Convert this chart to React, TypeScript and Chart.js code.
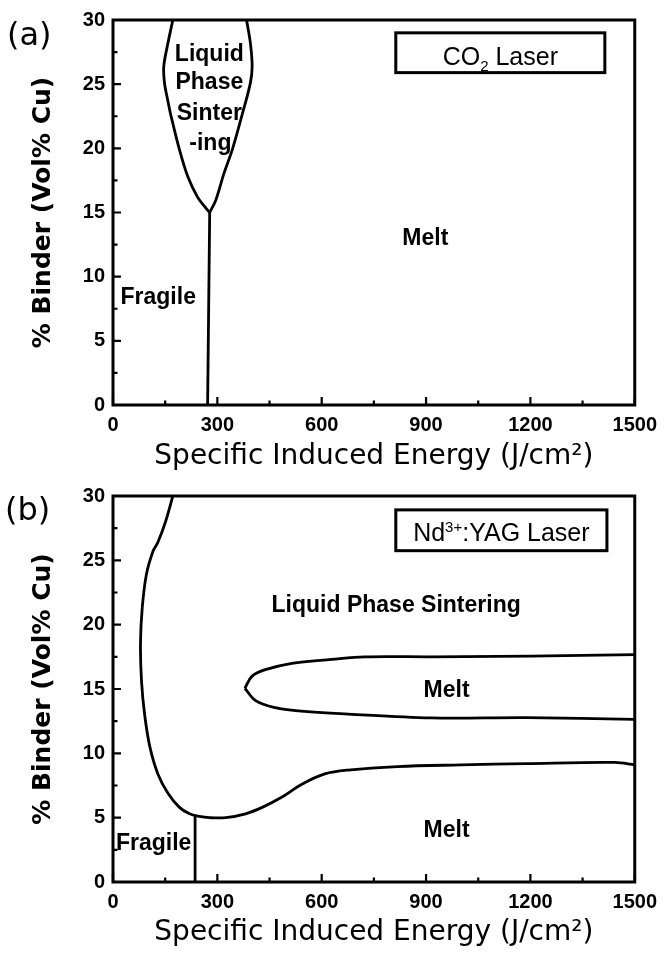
import React, { useEffect, useRef } from 'react';
import { Chart, registerables } from 'chart.js';

Chart.register(...registerables);

// ---------- axes ----------
const X_TICKS = [0, 300, 600, 900, 1200, 1500];
const X_MINOR = [150, 450, 750, 1050, 1350];
const Y_TICKS = [0, 5, 10, 15, 20, 25, 30];
const Y_MINOR = [2.5, 7.5, 12.5, 17.5, 22.5, 27.5];
const X_TITLE = 'Specific Induced Energy (J/cm\u00B2)';
const Y_TITLE = '% Binder (Vol% Cu)';

// ---------- panel (a): CO2 laser ----------
const A_LENS_LEFT_X = [172, 158, 146, 148, 157, 167, 191, 215, 243, 267, 278];
const A_LENS_LEFT_Y = [30, 28.2, 26.4, 25.1, 23.8, 22.5, 19.9, 17.8, 16.2, 15.35, 15.0];
const A_LENS_RIGHT_X = [278, 296, 319, 343, 370, 395, 400, 395, 384];
const A_LENS_RIGHT_Y = [15.0, 16.0, 18.05, 19.9, 22.5, 25.1, 26.4, 28.2, 30];
const A_DIVIDER_X = [272, 278];
const A_DIVIDER_Y = [0, 15.0];

// ---------- panel (b): Nd:YAG laser ----------
const B_ENVELOPE_X = [172, 151, 129, 115, 96, 84, 79, 82, 91, 106, 129, 158, 191, 220, 248, 277, 324, 381, 429, 486, 543, 609, 676, 818, 1000, 1189, 1443, 1500];
const B_ENVELOPE_Y = [30, 28.0, 26.4, 25.7, 23.9, 21.3, 18.5, 15.6, 13.0, 10.5, 8.4, 6.9, 5.8, 5.3, 5.1, 5.0, 5.0, 5.3, 5.8, 6.6, 7.6, 8.4, 8.7, 8.97, 9.1, 9.2, 9.29, 9.1];
const B_ISLAND_UPPER_X = [379, 400, 438, 514, 628, 724, 914, 1104, 1300, 1500];
const B_ISLAND_UPPER_Y = [15.06, 16.0, 16.5, 17.0, 17.3, 17.5, 17.5, 17.53, 17.6, 17.67];
const B_ISLAND_LOWER_X = [379, 410, 467, 533, 676, 914, 1189, 1500];
const B_ISLAND_LOWER_Y = [15.06, 14.1, 13.55, 13.3, 13.05, 12.75, 12.77, 12.64];
const B_DIVIDER_X = [236, 236];
const B_DIVIDER_Y = [0, 5.2];

// ---------- annotations (text, in data units) ----------
const A_REGION_TEXT = ['Liquid', 'Phase', 'Sinter', '-ing', 'Melt', 'Fragile'];
const A_REGION_X = [277, 277, 277, 280, 898, 130];
const A_REGION_Y = [27.3, 25.1, 22.7, 20.4, 12.95, 8.4];
const B_REGION_TEXT = ['Liquid Phase Sintering', 'Melt', 'Melt', 'Fragile'];
const B_REGION_X = [814, 959, 959, 117];
const B_REGION_Y = [21.5, 14.9, 4.0, 3.0];

const MAIN = '"Liberation Sans", Arial, Helvetica, sans-serif';
const WIDE = '"DejaVu Sans", Verdana, sans-serif';

type Part = { text: string; size: number; dy: number };

const pts = (xs: number[], ys: number[]) => xs.map((x, i) => ({ x, y: ys[i] }));

const line = (xs: number[], ys: number[], tension = 0.35) => ({
  data: pts(xs, ys),
  borderColor: '#000',
  borderWidth: 2.8,
  pointRadius: 0,
  fill: false,
  tension,
});

const decorPlugin = {
  id: 'decor',
  afterDraw(chart: any, _args: any, opts: any) {
    const { ctx, chartArea: a } = chart;
    const xs = chart.scales.x;
    const ys = chart.scales.y;
    ctx.save();
    ctx.strokeStyle = '#000';
    ctx.fillStyle = '#000';

    // inward tick marks
    ctx.lineWidth = 2.2;
    ctx.beginPath();
    const xt = (vals: number[], len: number) => {
      for (const v of vals) {
        const px = xs.getPixelForValue(v);
        ctx.moveTo(px, a.bottom);
        ctx.lineTo(px, a.bottom - len);
      }
    };
    const yt = (vals: number[], len: number) => {
      for (const v of vals) {
        const py = ys.getPixelForValue(v);
        ctx.moveTo(a.left, py);
        ctx.lineTo(a.left + len, py);
      }
    };
    xt(X_TICKS, 8);
    xt(X_MINOR, 4.5);
    yt(Y_TICKS, 8);
    yt(Y_MINOR, 4.5);
    ctx.stroke();

    // frame
    ctx.lineWidth = 3;
    ctx.strokeRect(a.left, a.top, a.right - a.left, a.bottom - a.top);

    // region labels
    ctx.font = `bold 23px ${MAIN}`;
    ctx.textAlign = 'center';
    ctx.textBaseline = 'middle';
    const texts: string[] = opts.regionText;
    texts.forEach((t, i) => {
      ctx.fillText(t, xs.getPixelForValue(opts.regionX[i]), ys.getPixelForValue(opts.regionY[i]));
    });

    // legend box
    const lg = opts.legend;
    const bx1 = xs.getPixelForValue(lg.x1);
    const bx2 = xs.getPixelForValue(lg.x2);
    const by1 = ys.getPixelForValue(lg.y1);
    const by2 = ys.getPixelForValue(lg.y2);
    ctx.lineWidth = 3;
    ctx.strokeRect(bx1, by1, bx2 - bx1, by2 - by1);
    const parts: Part[] = lg.parts;
    ctx.textAlign = 'left';
    ctx.textBaseline = 'alphabetic';
    let total = 0;
    const widths = parts.map((p) => {
      ctx.font = `${p.size}px ${MAIN}`;
      const w = ctx.measureText(p.text).width;
      total += w;
      return w;
    });
    let cx = (bx1 + bx2) / 2 - total / 2;
    const base = ys.getPixelForValue(lg.textY) + 9;
    parts.forEach((p, i) => {
      ctx.font = `${p.size}px ${MAIN}`;
      ctx.fillText(p.text, cx, base + p.dy);
      cx += widths[i];
    });

    // panel tag
    ctx.font = `32px ${WIDE}`;
    ctx.fillText(opts.tag, opts.tagX, opts.tagBaseline);
    ctx.restore();
  },
};

function makeConfig(p: any): any {
  return {
    type: 'line',
    data: { datasets: p.datasets },
    plugins: [decorPlugin],
    options: {
      responsive: false,
      maintainAspectRatio: false,
      animation: false,
      events: [],
      layout: { padding: { top: p.padTop, right: 26, left: 0, bottom: 0 } },
      plugins: {
        legend: { display: false },
        tooltip: { enabled: false },
        decor: p.decor,
      },
      scales: {
        x: {
          type: 'linear',
          min: 0,
          max: 1500,
          afterBuildTicks: (s: any) => {
            s.ticks = X_TICKS.map((v) => ({ value: v }));
          },
          afterFit: (s: any) => {
            s.height = p.xAxisH;
          },
          grid: { display: false, drawTicks: false },
          border: { display: false },
          ticks: {
            color: '#000',
            padding: 8,
            maxRotation: 0,
            callback: (v: any) => String(v),
            font: { family: MAIN, size: 20, weight: 'bold' },
          },
          title: {
            display: true,
            text: X_TITLE,
            color: '#000',
            font: { family: WIDE, size: 28, weight: 'normal' },
            padding: { top: 0, bottom: p.xTitlePad },
          },
        },
        y: {
          type: 'linear',
          min: 0,
          max: 30,
          afterBuildTicks: (s: any) => {
            s.ticks = Y_TICKS.map((v) => ({ value: v }));
          },
          afterFit: (s: any) => {
            s.width = 113;
          },
          grid: { display: false, drawTicks: false },
          border: { display: false },
          ticks: {
            color: '#000',
            padding: 8,
            callback: (v: any) => String(v),
            font: { family: MAIN, size: 20, weight: 'bold' },
          },
          title: {
            display: true,
            text: Y_TITLE,
            color: '#000',
            font: { family: WIDE, size: 25, weight: 'bold' },
            padding: { top: 28, bottom: 0 },
          },
        },
      },
    },
  };
}

const panelA = {
  padTop: 20,
  xAxisH: 71,
  xTitlePad: 2,
  datasets: [
    line(A_LENS_LEFT_X, A_LENS_LEFT_Y),
    line(A_LENS_RIGHT_X, A_LENS_RIGHT_Y),
    line(A_DIVIDER_X, A_DIVIDER_Y, 0),
  ],
  decor: {
    regionText: A_REGION_TEXT,
    regionX: A_REGION_X,
    regionY: A_REGION_Y,
    legend: {
      x1: 813, x2: 1414, y1: 29.0, y2: 25.9, textY: 27.2,
      parts: [
        { text: 'CO', size: 25, dy: 0 },
        { text: '2', size: 15, dy: 6 },
        { text: ' Laser', size: 25, dy: 0 },
      ],
    },
    tag: '(a)',
    tagX: 7,
    tagBaseline: 45,
  },
};

const panelB = {
  padTop: 18,
  xAxisH: 71,
  xTitlePad: 3,
  datasets: [
    line(B_ENVELOPE_X, B_ENVELOPE_Y),
    line(B_ISLAND_UPPER_X, B_ISLAND_UPPER_Y),
    line(B_ISLAND_LOWER_X, B_ISLAND_LOWER_Y),
    line(B_DIVIDER_X, B_DIVIDER_Y, 0),
  ],
  decor: {
    regionText: B_REGION_TEXT,
    regionX: B_REGION_X,
    regionY: B_REGION_Y,
    legend: {
      x1: 813, x2: 1420, y1: 28.92, y2: 25.75, textY: 27.2,
      parts: [
        { text: 'Nd', size: 25, dy: 0 },
        { text: '3+', size: 15, dy: -9 },
        { text: ':YAG Laser', size: 25, dy: 0 },
      ],
    },
    tag: '(b)',
    tagX: 5,
    tagBaseline: 44,
  },
};

export default function App() {
  const topRef = useRef<HTMLCanvasElement>(null);
  const botRef = useRef<HTMLCanvasElement>(null);

  useEffect(() => {
    document.body.style.margin = '0';
    document.body.style.background = '#fff';
    const c1 = new Chart(topRef.current as HTMLCanvasElement, makeConfig(panelA));
    const c2 = new Chart(botRef.current as HTMLCanvasElement, makeConfig(panelB));
    return () => {
      c1.destroy();
      c2.destroy();
    };
  }, []);

  return (
    <div style={{ width: 665, height: 953, background: '#fff' }}>
      <canvas ref={topRef} width={665} height={476} style={{ display: 'block' }} />
      <canvas ref={botRef} width={665} height={477} style={{ display: 'block' }} />
    </div>
  );
}
